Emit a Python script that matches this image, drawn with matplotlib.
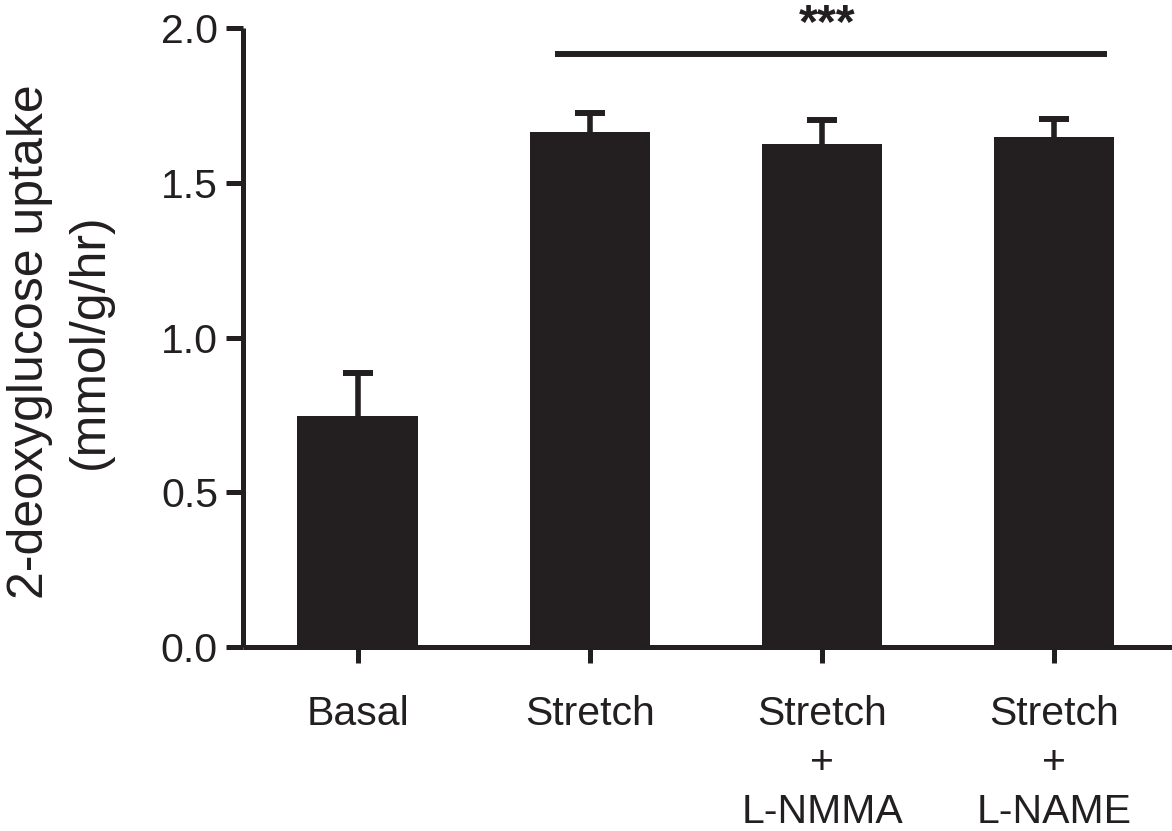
import numpy as np
import matplotlib
matplotlib.use('Agg')
import matplotlib.pyplot as plt

plt.rcParams['font.family'] = ['Liberation Sans', 'DejaVu Sans']

groups = ['Basal', 'Stretch', 'Stretch\n+\nL-NMMA', 'Stretch\n+\nL-NAME']
uptake = [0.746, 1.664, 1.625, 1.648]
sem = [0.139, 0.061, 0.078, 0.058]
sig_span = (0.85, 3.23)
sig_y = 1.916
sig_label = '***'

ink = '#231f20'
x = np.arange(len(groups))

fig = plt.figure(figsize=(11.72, 8.31), dpi=100)
ax = fig.add_axes([0.2073, 0.2214, 0.7927, 0.7449])

ax.bar(x, uptake, width=0.52, color=ink, zorder=2)
eb = ax.errorbar(x, uptake, yerr=[np.zeros(len(sem)), sem], fmt='none',
                 ecolor=ink, elinewidth=4, capsize=10.5, capthick=4.3, zorder=1)
# only the upper cap is wanted
eb[1][0].set_visible(False)

ax.plot(sig_span, [sig_y, sig_y], color=ink, lw=4.3, solid_capstyle='butt')
ax.text(np.mean([1, 3]) + 0.02, 1.972, sig_label, ha='center', va='baseline',
        fontsize=35, fontweight='bold', color=ink, clip_on=False)

ax.set_xlim(-0.495, 3.508)
ax.set_ylim(0, 2.0)
ax.set_yticks([0.0, 0.5, 1.0, 1.5, 2.0])
ax.set_yticklabels(['0.0', '0.5', '1.0', '1.5', '2.0'])
ax.set_xticks(x)
ax.set_xticklabels(groups, linespacing=1.36)

for s in ['top', 'right']:
    ax.spines[s].set_visible(False)
for s in ['left', 'bottom']:
    ax.spines[s].set_linewidth(3.6)
    ax.spines[s].set_color(ink)
    ax.spines[s].set_capstyle('butt')

ax.tick_params(axis='y', length=12, width=3.6, color=ink, labelsize=29.5,
               labelcolor=ink, pad=6)
ax.tick_params(axis='x', length=11.5, width=3.6, color=ink, labelsize=29.5,
               labelcolor=ink, pad=23)

ax.set_ylabel('2-deoxyglucose uptake\n(mmol/g/hr)', fontsize=36, color=ink,
              ha='center', va='center', linespacing=1.38)
ax.yaxis.set_label_coords(-0.197, 0.494)

fig.savefig('out.png', dpi=100)
